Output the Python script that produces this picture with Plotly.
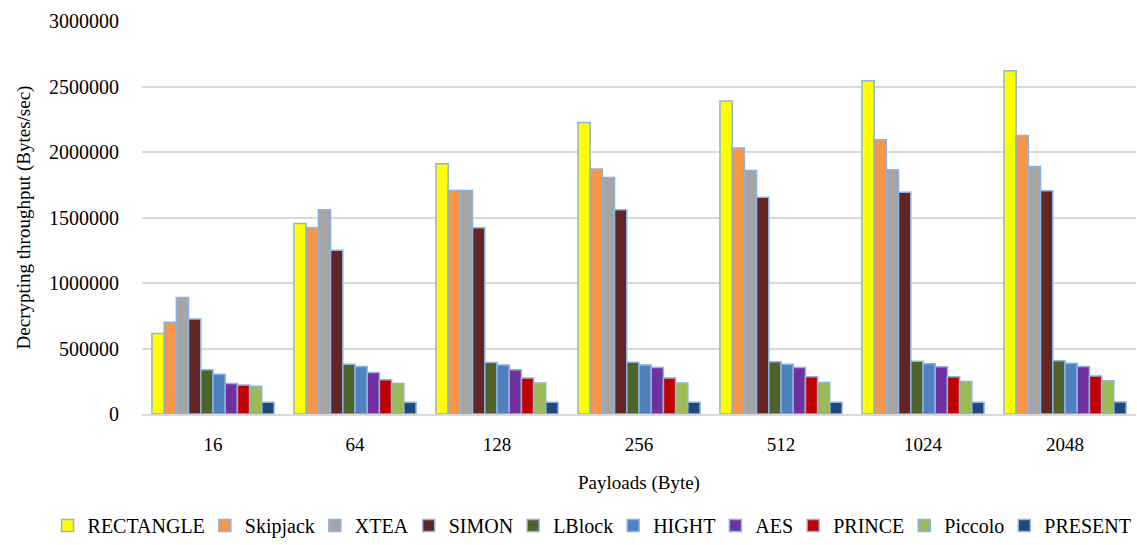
import plotly.graph_objects as go

payloads = ["16", "64", "128", "256", "512", "1024", "2048"]

ciphers = ["RECTANGLE", "Skipjack", "XTEA", "SIMON", "LBlock",
           "HIGHT", "AES", "PRINCE", "Piccolo", "PRESENT"]

rectangle = [615000, 1455000, 1910000, 2225000, 2390000, 2544000, 2620000]
skipjack = [700000, 1421000, 1707000, 1870000, 2030000, 2093000, 2126000]
xtea = [890000, 1560000, 1707000, 1806000, 1859000, 1864000, 1890000]
simon = [726000, 1250000, 1421000, 1560000, 1654000, 1692000, 1705000]
lblock = [337000, 380000, 393000, 395000, 398000, 403000, 406000]
hight = [304000, 363000, 375000, 375000, 380000, 383000, 388000]
aes = [233000, 317000, 337000, 355000, 355000, 360000, 363000]
prince = [221000, 261000, 274000, 274000, 284000, 284000, 291000]
piccolo = [211000, 233000, 236000, 236000, 241000, 249000, 253000]
present = [89000, 89000, 89000, 89000, 89000, 89000, 92000]

series = [rectangle, skipjack, xtea, simon, lblock,
          hight, aes, prince, piccolo, present]

colors = ["#FFFF00", "#F79646", "#A5A5A5", "#632523", "#4F6228",
          "#4F81BD", "#7030A0", "#C00000", "#9BBB59", "#1F497D"]

serif = "Liberation Serif, Times New Roman, serif"


def font(size):
    return dict(family=serif, size=size, color="#000000")


fig = go.Figure()
for name, vals, col in zip(ciphers, series, colors):
    fig.add_trace(go.Bar(
        x=payloads, y=vals, name=name,
        marker=dict(color=col, line=dict(color="#8DB3E2", width=1.5)),
    ))

fig.update_layout(
    width=1137, height=545,
    margin=dict(l=142, r=1, t=21, b=130),
    paper_bgcolor="white", plot_bgcolor="white",
    barmode="group", bargap=0.14, bargroupgap=0.0,
    font=font(19),
    legend=dict(
        orientation="h", x=-0.09, xanchor="left",
        y=-0.33, yanchor="bottom",
        font=font(20), itemwidth=30, indentation=-5, tracegroupgap=0,
    ),
    xaxis=dict(
        type="category",
        title=dict(text="Payloads (Byte)", font=font(19), standoff=22),
        showline=True, linecolor="#D9D9D9", linewidth=1.5,
        ticks="", tickfont=font(19), ticklabelstandoff=12,
    ),
    yaxis=dict(
        title=dict(text="Decrypting throughput (Bytes/sec)", font=font(19), standoff=13),
        range=[0, 3000000], dtick=500000, tickformat="d",
        showgrid=True, gridcolor="#D9D9D9", gridwidth=1.5,
        zeroline=False, ticks="", tickfont=font(20), ticklabelstandoff=22,
    ),
)

fig.write_html("out.html")
